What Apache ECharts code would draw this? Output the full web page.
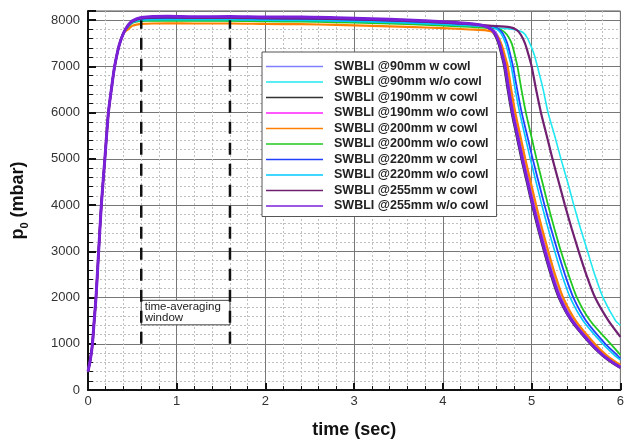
<!DOCTYPE html>
<html>
<head>
<meta charset="utf-8">
<script src="https://cdn.jsdelivr.net/npm/echarts@6/dist/echarts.min.js"></script>
<style>
  html, body { margin: 0; padding: 0; background: #fff; }
  #chart { width: 627px; height: 444px; }
</style>
</head>
<body>
<div id="chart"></div>
<script>
// Run names, in legend order
const runNames = [
  'SWBLI @90mm w cowl',
  'SWBLI @90mm w/o cowl',
  'SWBLI @190mm w cowl',
  'SWBLI @190mm w/o cowl',
  'SWBLI @200mm w cowl',
  'SWBLI @200mm w/o cowl',
  'SWBLI @220mm w cowl',
  'SWBLI @220mm w/o cowl',
  'SWBLI @255mm w cowl',
  'SWBLI @255mm w/o cowl'
];

// Common pressurisation ramp (time in s, p0 in mbar)
const riseTime = [0, 0.03, 0.05, 0.07, 0.09, 0.12, 0.15, 0.19, 0.23, 0.27, 0.30, 0.35, 0.40];
const riseP0   = [400, 700, 1000, 1500, 2000, 3000, 4000, 5000, 6000, 6600, 7000, 7450, 7720];

// Plateau and blow-down of each run: [time (s), p0 (mbar)]
const run90w = [[0.45,7870],[0.5,7960],[0.6,8010],[0.9,8030],[1.2,8020],[1.6,8025],[2.0,8010],[2.4,8015],[2.8,8000],[3.2,7990],[3.6,7960],[4.0,7930],[4.3,7895],
  [4.48,7870],[4.56,7810],[4.61,7700],[4.655,7500],[4.69,7250],[4.72,7000],[4.76,6500],[4.805,6000],[4.86,5500],[4.915,5000],[4.975,4500],[5.035,4000],[5.10,3500],[5.17,3000],[5.245,2500],[5.335,2000],[5.475,1500],[5.69,1000],[5.825,750],[5.93,600],[6.0,515]];
const run90wo = [[0.45,7860],[0.5,7950],[0.6,7990],[0.9,8000],[1.2,7995],[1.6,7990],[2.0,7985],[2.4,7980],[2.8,7965],[3.2,7950],[3.6,7930],[4.0,7900],[4.3,7870],[4.6,7835],
  [4.80,7800],[4.90,7740],[4.95,7620],[4.99,7450],[5.03,7250],[5.065,7000],[5.13,6500],[5.185,6000],[5.26,5500],[5.33,5000],[5.405,4500],[5.475,4000],[5.55,3500],[5.63,3000],[5.71,2500],[5.805,2000],[5.945,1500],[6.0,1400]];
const run190w = [[0.45,7880],[0.5,7970],[0.6,8030],[0.9,8050],[1.2,8040],[1.6,8045],[2.0,8030],[2.4,8035],[2.8,8020],[3.2,8000],[3.6,7970],[4.0,7940],[4.3,7900],
  [4.45,7870],[4.53,7810],[4.58,7700],[4.625,7500],[4.66,7250],[4.69,7000],[4.73,6500],[4.775,6000],[4.83,5500],[4.885,5000],[4.945,4500],[5.005,4000],[5.07,3500],[5.14,3000],[5.215,2500],[5.305,2000],[5.445,1500],[5.66,1000],[5.795,750],[5.90,600],[6.0,480]];
const run190wo = [[0.45,7860],[0.5,7950],[0.6,7990],[0.9,8005],[1.2,8000],[1.6,8000],[2.0,7990],[2.4,7990],[2.8,7975],[3.2,7960],[3.6,7935],[4.0,7905],[4.3,7880],
  [4.47,7860],[4.55,7810],[4.60,7700],[4.645,7500],[4.68,7250],[4.71,7000],[4.75,6500],[4.795,6000],[4.85,5500],[4.905,5000],[4.965,4500],[5.025,4000],[5.09,3500],[5.16,3000],[5.235,2500],[5.325,2000],[5.465,1500],[5.68,1000],[5.815,750],[5.92,600],[6.0,500]];
const run200w = [[0.45,7800],[0.5,7880],[0.6,7920],[0.9,7935],[1.2,7930],[1.6,7930],[2.0,7920],[2.4,7915],[2.8,7900],[3.2,7880],[3.6,7855],[4.0,7830],[4.3,7800],
  [4.49,7780],[4.57,7740],[4.62,7640],[4.665,7450],[4.70,7220],[4.73,7000],[4.77,6500],[4.816,6000],[4.872,5500],[4.928,5000],[4.989,4500],[5.05,4000],[5.116,3500],[5.187,3000],[5.263,2500],[5.354,2000],[5.495,1500],[5.71,1000],[5.845,750],[5.95,600],[6.0,540]];
const run200wo = [[0.45,7850],[0.5,7940],[0.6,7980],[0.9,7990],[1.2,7985],[1.6,7985],[2.0,7975],[2.4,7970],[2.8,7955],[3.2,7940],[3.6,7915],[4.0,7885],[4.3,7855],
  [4.56,7830],[4.66,7790],[4.72,7690],[4.775,7500],[4.81,7250],[4.84,7000],[4.885,6500],[4.935,6000],[4.995,5500],[5.055,5000],[5.12,4500],[5.185,4000],[5.255,3500],[5.33,3000],[5.415,2500],[5.51,2000],[5.66,1500],[5.89,1000],[6.0,760]];
const run220w = [[0.45,7870],[0.5,7960],[0.6,8020],[0.9,8040],[1.2,8030],[1.6,8035],[2.0,8020],[2.4,8020],[2.8,8005],[3.2,7990],[3.6,7960],[4.0,7930],[4.3,7895],
  [4.54,7870],[4.625,7810],[4.68,7700],[4.725,7500],[4.76,7250],[4.79,7000],[4.837,6500],[4.888,6000],[4.95,5500],[5.012,5000],[5.078,4500],[5.145,4000],[5.217,3500],[5.293,3000],[5.375,2500],[5.47,2000],[5.613,1500],[5.83,1000],[5.96,760],[6.0,680]];
const run220wo = [[0.45,7860],[0.5,7950],[0.6,8000],[0.9,8015],[1.2,8010],[1.6,8010],[2.0,8000],[2.4,7995],[2.8,7985],[3.2,7965],[3.6,7940],[4.0,7910],[4.3,7880],
  [4.52,7860],[4.605,7810],[4.66,7700],[4.705,7500],[4.74,7250],[4.77,7000],[4.815,6500],[4.865,6000],[4.925,5500],[4.985,5000],[5.05,4500],[5.115,4000],[5.185,3500],[5.26,3000],[5.34,2500],[5.435,2000],[5.58,1500],[5.80,1000],[5.935,750],[6.0,655]];
const run255w = [[0.45,7880],[0.5,7970],[0.6,8040],[0.9,8060],[1.2,8050],[1.6,8055],[2.0,8045],[2.4,8040],[2.8,8030],[3.2,8010],[3.6,7985],[4.0,7950],[4.3,7915],[4.55,7880],
  [4.75,7850],[4.83,7790],[4.88,7680],[4.925,7500],[4.965,7250],[5.00,7000],[5.05,6500],[5.105,6000],[5.17,5500],[5.235,5000],[5.305,4500],[5.375,4000],[5.45,3500],[5.53,3000],[5.615,2500],[5.715,2000],[5.865,1500],[6.0,1150]];
const run255wo = [[0.45,7890],[0.5,7990],[0.6,8060],[0.9,8085],[1.2,8075],[1.6,8080],[2.0,8070],[2.4,8070],[2.8,8055],[3.2,8035],[3.6,8005],[4.0,7970],[4.3,7930],
  [4.46,7880],[4.54,7810],[4.59,7700],[4.635,7500],[4.67,7250],[4.70,7000],[4.74,6500],[4.785,6000],[4.84,5500],[4.895,5000],[4.955,4500],[5.015,4000],[5.08,3500],[5.15,3000],[5.225,2500],[5.315,2000],[5.455,1500],[5.67,1000],[5.805,750],[5.91,600],[6.0,490]];

const runData = [run90w, run90wo, run190w, run190wo, run200w, run200wo, run220w, run220wo, run255w, run255wo];

// Averaging window limits (s) and the label box extent (mbar)
const windowTimes = [0.6, 1.6];
const windowSpan = [1000, 8000];
const windowBox = [1410, 1940];

const runColors = ['#7f7fff', '#20e8f0', '#333333', '#ff20ff', '#ff8000', '#20c820', '#2040ff', '#00c8ff', '#702070', '#7a20d8'];
const runWidths = [1.6, 1.6, 2.2, 1.6, 2.2, 1.8, 1.8, 1.6, 2.2, 3];

const FONT = '"Liberation Sans", Arial, Helvetica, sans-serif';

const series = runData.map((d, i) => ({
  name: runNames[i],
  type: 'line',
  data: riseTime.map((t, k) => [t, riseP0[k]]).concat(d),
  symbol: 'none',
  smooth: 0.25,
  lineStyle: { color: runColors[i], width: runWidths[i] },
  itemStyle: { color: runColors[i] },
  animation: false
}));

windowTimes.forEach((t, i) => {
  series.push({
    name: 'window' + i,
    type: 'line',
    data: [[t, windowSpan[0]], [t, windowSpan[1]]],
    symbol: 'none',
    silent: true,
    lineStyle: { color: '#111', width: 2.5, type: [12, 9] },
    z: 5,
    animation: false
  });
});

// Label box of the averaging window
series.push({
  name: 'windowLabel',
  type: 'line',
  data: [],
  silent: true,
  z: 4,
  markArea: {
    silent: true,
    itemStyle: { color: '#fff', borderColor: '#444', borderWidth: 1 },
    label: {
      show: true, position: 'insideTopLeft', distance: 1,
      formatter: 'time-averaging\nwindow',
      fontFamily: FONT, fontSize: 11.5, color: '#222', lineHeight: 11.5, padding: [0, 0, 0, 3]
    },
    data: [[{ coord: [windowTimes[0], windowBox[1]] }, { coord: [windowTimes[1], windowBox[0]] }]]
  }
});

const chart = echarts.init(document.getElementById('chart'), null, { renderer: 'canvas' });
chart.setOption({
  animation: false,
  backgroundColor: '#fff',
  grid: { left: 88, right: 1, top: 11, bottom: 46, show: true, borderColor: '#555', borderWidth: 1 },
  legend: {
    data: runNames,
    orient: 'vertical',
    left: 262, top: 52,
    padding: [7, 8, 3, 4],
    itemGap: 0.5,
    icon: 'rect',
    itemWidth: 57, itemHeight: 1.6,
    backgroundColor: '#fff',
    borderColor: '#555', borderWidth: 1,
    textStyle: { fontFamily: FONT, fontWeight: 'bold', fontSize: 12.5, lineHeight: 15, color: '#222', padding: [0, 0, 0, 6] },
    selectedMode: false
  },
  xAxis: {
    type: 'value', min: 0, max: 6, interval: 1,
    name: 'time (sec)', nameLocation: 'middle', nameGap: 31,
    nameTextStyle: { fontFamily: FONT, fontWeight: 'bold', fontSize: 18, color: '#111' },
    axisLine: { lineStyle: { color: '#111', width: 2 } },
    axisTick: { inside: true, length: 7, lineStyle: { color: '#111', width: 2 } },
    minorTick: { show: true, splitNumber: 5, length: 4, lineStyle: { color: '#111', width: 1 } },
    axisLabel: { fontFamily: FONT, fontSize: 13, color: '#333', margin: 5 },
    splitLine: { show: true, lineStyle: { color: '#777', width: 1 } },
    minorSplitLine: { show: true, lineStyle: { color: '#c0c0c0', width: 1, type: [2, 2] } }
  },
  yAxis: {
    type: 'value', min: 0, max: 8200, interval: 1000,
    name: '{m|p}{s|0}{m| (mbar)}', nameLocation: 'middle', nameGap: 58,
    nameTextStyle: {
      rich: {
        m: { fontFamily: FONT, fontWeight: 'bold', fontSize: 18, color: '#111', lineHeight: 24 },
        s: { fontFamily: FONT, fontWeight: 'bold', fontSize: 11, color: '#111', lineHeight: 24, verticalAlign: 'bottom', padding: [8, 0, 0, 0] }
      }
    },
    axisLine: { show: true, lineStyle: { color: '#111', width: 2 } },
    axisTick: { inside: true, length: 8, lineStyle: { color: '#111', width: 2 } },
    minorTick: { show: true, splitNumber: 5, length: 5, lineStyle: { color: '#111', width: 1 } },
    axisLabel: { fontFamily: FONT, fontSize: 13, color: '#333', margin: 8, showMaxLabel: false,
      formatter: v => (v % 1000 === 0 ? String(v) : '') },
    splitLine: { show: true, lineStyle: { color: '#777', width: 1 } },
    minorSplitLine: { show: true, lineStyle: { color: '#c0c0c0', width: 1, type: [2, 2] } }
  },
  series: series
});
</script>
</body>
</html>
